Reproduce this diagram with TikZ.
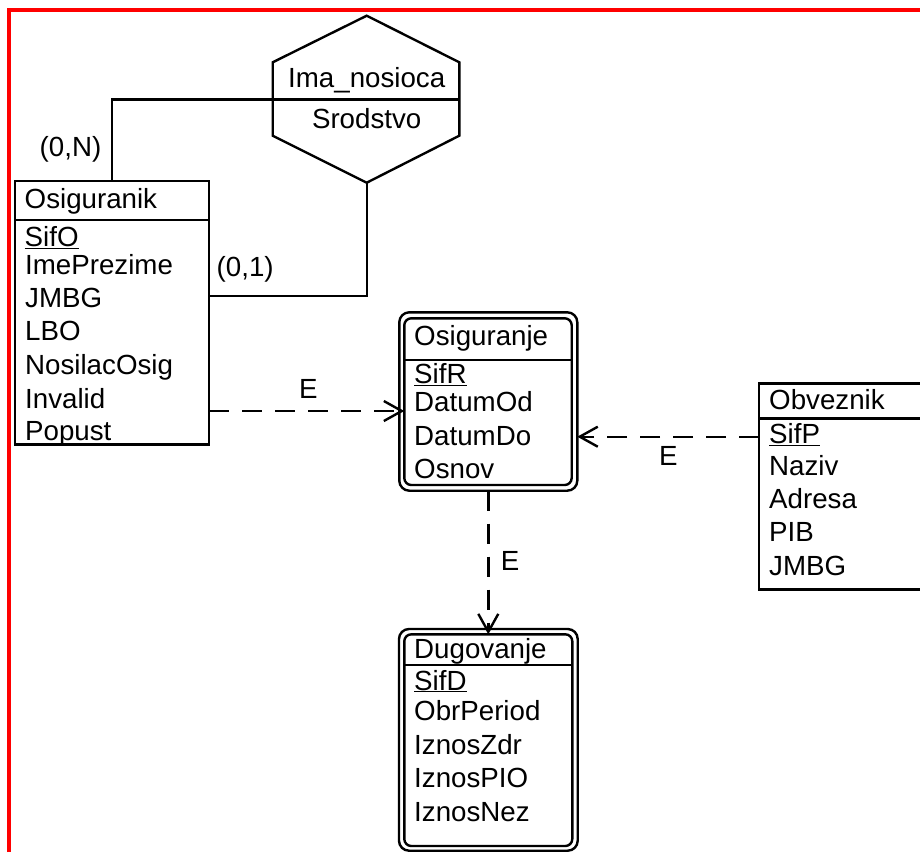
\documentclass[tikz,border=0pt]{standalone}
\usepackage{fontspec}
\setmainfont{Liberation Sans}
\usetikzlibrary{arrows.meta}
\begin{document}
\begin{tikzpicture}[x=1pt,y=-1pt,line width=2.4pt,
  txt/.style={anchor=base west,inner sep=0pt,font=\fontsize{27.7}{30}\selectfont},
  ctxt/.style={anchor=base,inner sep=0pt,font=\fontsize{27.7}{30}\selectfont},
  box/.style={draw,rectangle,inner sep=0pt,outer sep=0pt,anchor=north west},
  wbox/.style={box,rounded corners=#1},
  rel/.style={dash pattern=on 20pt off 13pt,-{Straight Barb[length=18pt,width=20pt,line width=2.4pt]}},
  frame/.style={draw=red,line width=4pt}]
\clip (0,0) rectangle (920,852);
\fill[white] (0,0) rectangle (920,852);
% frame
\draw[frame] (9,852) -- (9,10) -- (925,10);
% relationship hexagon
\draw (366.7,15.7) -- (459.3,62.3) -- (459.3,135.7) -- (366.7,182.7) -- (272.7,135.7) -- (272.7,62.3) -- cycle;
\draw (272.7,99.3) -- (459.3,99.3);
\coordinate (relL) at (272.7,99.3);
\coordinate (relB) at (366.7,182.7);
\node[ctxt] (relname) at (366.7,87.3) {Ima\_nosioca};
\node[ctxt] (relattr) at (366.7,128.3) {Srodstvo};
% Osiguranik
\node[box,minimum width=194pt,minimum height=263.3pt] (osig) at (15,181) {};
\draw ([yshift=-39pt]osig.north west) -- ([yshift=-39pt]osig.north east);
\node[txt] (t1) at (23.5,208.3) {Osiguranik};
\node[txt] (t2) at (23.5,246.7) {\underline{SifO}};
\node[txt] (t3) at (24,274) {ImePrezime};
\node[txt] (t4) at (24,307) {JMBG};
\node[txt] (t5) at (24,340.7) {LBO};
\node[txt] (t6) at (24,374) {NosilacOsig};
\node[txt] (t7) at (24,408.3) {Invalid};
\node[txt] (t8) at (24,440.7) {Popust};
% Osiguranje
\node[wbox=10pt,minimum width=178pt,minimum height=178.4pt] (osgo) at (399.3,312.3) {};
\node[wbox=7pt,minimum width=167.4pt,minimum height=166.7pt] (osgi) at (404.3,318.3) {};
\draw ([yshift=-41.7pt]osgi.north west) -- ([yshift=-41.7pt]osgi.north east);
\node[txt] (u1) at (413,345) {Osiguranje};
\node[txt] (u2) at (413,383.3) {\underline{SifR}};
\node[txt] (u3) at (413,411.7) {DatumOd};
\node[txt] (u4) at (413,445) {DatumDo};
\node[txt] (u5) at (413,478.3) {Osnov};
% Obveznik
\node[box,minimum width=201pt,minimum height=206pt] (obv) at (759,383.3) {};
\draw ([yshift=-35pt]obv.north west) -- ([yshift=-35pt]obv.north east);
\node[txt] (v1) at (768,409.3) {Obveznik};
\node[txt] (v2) at (768,443.3) {\underline{SifP}};
\node[txt] (v3) at (768,475) {Naziv};
\node[txt] (v4) at (768,508.3) {Adresa};
\node[txt] (v5) at (768,541.7) {PIB};
\node[txt] (v6) at (768,575) {JMBG};
% Dugovanje
\node[wbox=10pt,minimum width=178.7pt,minimum height=221.7pt] (dugo) at (399,629) {};
\node[wbox=7pt,minimum width=168pt,minimum height=211.7pt] (dugi) at (404.3,634.3) {};
\draw ([yshift=-30.7pt]dugi.north west) -- ([yshift=-30.7pt]dugi.north east);
\node[txt] (w1) at (413,658.3) {Dugovanje};
\node[txt] (w2) at (413,690) {\underline{SifD}};
\node[txt] (w3) at (413,720) {ObrPeriod};
\node[txt] (w4) at (413,754.3) {IznosZdr};
\node[txt] (w5) at (413,787.7) {IznosPIO};
\node[txt] (w6) at (413,821) {IznosNez};
% connectors
\coordinate (c1) at (0,296);
\coordinate (a1) at (0,411);
\coordinate (a2) at (0,436.7);
\draw (relL) -| (osig.north);
\draw (relB) |- (osig.east |- c1);
\node[txt] (cN) at (38.5,156.5) {(0,N)};
\node[txt] (c01) at (215.5,276) {(0,1)};
\draw[rel] (osig.east |- a1) -- (osgi.west |- a1);
\draw[rel] (obv.west |- a2) -- (osgo.east |- a2);
\draw[rel] (osgo.south) -- (dugi.north);
\node[txt] (e1) at (298,398.3) {E};
\node[txt] (e2) at (658,465.7) {E};
\node[txt] (e3) at (499.7,570) {E};
\end{tikzpicture}
\end{document}
